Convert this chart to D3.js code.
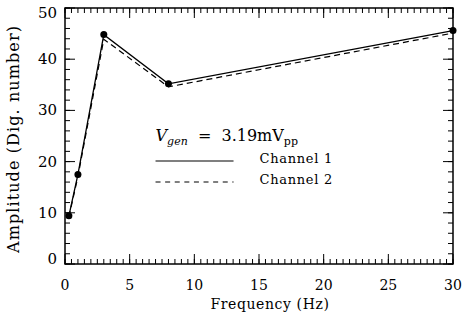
<!DOCTYPE html>
<html>
<head>
<meta charset="utf-8">
<script src="https://cdn.jsdelivr.net/npm/d3@7"></script>
<style>
  body { margin: 0; background: #fff; }
  text { font-family: "DejaVu Serif", serif; fill: #000; }
</style>
</head>
<body>
<div id="chart"></div>
<script>
const freq = [0.3, 1, 3, 8, 30];
const channel1 = [9.4, 17.5, 44.8, 35.2, 45.6];
const channel2 = [9.2, 17.1, 43.9, 34.6, 45.1];
const xTicks = [0, 5, 10, 15, 20, 25, 30];
const yTicks = [0, 10, 20, 30, 40, 50];

const margin = { top: 8, right: 15, bottom: 56, left: 65 };
const width = 468 - margin.left - margin.right;
const height = 320 - margin.top - margin.bottom;

const svg = d3.select("#chart")
  .append("svg")
  .attr("width", 468)
  .attr("height", 320)
  .append("g")
  .attr("transform", `translate(${margin.left}, ${margin.top})`);

const xScale = d3.scaleLinear().domain([0, 30]).range([0, width]);
const yScale = d3.scaleLinear().domain([0, 50]).range([height, 0]);

// minor + major ticks on all four sides, pointing inward
const xMinor = d3.range(0, 30.01, 0.5);
const yMinor = d3.range(0, 50.01, 2);

function ticks(g, scale, vals, len, side) {
  vals.forEach(v => {
    const p = scale(v);
    if (side === "bottom") g.append("line").attr("x1", p).attr("x2", p).attr("y1", height).attr("y2", height - len);
    if (side === "top") g.append("line").attr("x1", p).attr("x2", p).attr("y1", 0).attr("y2", len);
    if (side === "left") g.append("line").attr("y1", p).attr("y2", p).attr("x1", 0).attr("x2", len);
    if (side === "right") g.append("line").attr("y1", p).attr("y2", p).attr("x1", width).attr("x2", width - len);
  });
}

const tg = svg.append("g").attr("stroke", "#000").attr("stroke-width", 1);
["bottom", "top"].forEach(s => { ticks(tg, xScale, xMinor, 5, s); ticks(tg, xScale, xTicks, 10, s); });
["left", "right"].forEach(s => { ticks(tg, yScale, yMinor, 5, s); ticks(tg, yScale, yTicks, 10, s); });

svg.append("rect")
  .attr("width", width).attr("height", height)
  .attr("fill", "none").attr("stroke", "#000").attr("stroke-width", 1.5);

svg.selectAll(".xl").data(xTicks).enter().append("text")
  .attr("x", d => xScale(d)).attr("y", height + 26)
  .attr("text-anchor", "middle").style("font-size", "14px")
  .text(d => d);

// end labels nudged inside like the original
svg.selectAll(".yl").data(yTicks).enter().append("text")
  .attr("x", -8).attr("y", d => Math.max(5, Math.min(height - 5, yScale(d))) + 5)
  .attr("text-anchor", "end").style("font-size", "15px")
  .text(d => d);

svg.append("text")
  .attr("x", width / 2 + 11).attr("y", height + 45)
  .attr("text-anchor", "middle").style("font-size", "14px")
  .style("letter-spacing", "0.6px")
  .text("Frequency (Hz)");

svg.append("text")
  .attr("transform", `translate(${-46}, ${height / 2 + 3}) rotate(-90)`)
  .attr("text-anchor", "middle").style("font-size", "16px")
  .style("letter-spacing", "1.1px")
  .text("Amplitude (Dig. number)");

const line = d3.line().x((d, i) => xScale(freq[i])).y(d => yScale(d));

svg.append("path").datum(channel2)
  .attr("d", line).attr("fill", "none")
  .attr("stroke", "#000").attr("stroke-width", 1.2).attr("stroke-dasharray", "6,4");

svg.append("path").datum(channel1)
  .attr("d", line).attr("fill", "none")
  .attr("stroke", "#000").attr("stroke-width", 1.3);

svg.selectAll(".dot").data(channel1).enter().append("circle")
  .attr("cx", (d, i) => xScale(freq[i])).attr("cy", d => yScale(d))
  .attr("r", 3.5).attr("fill", "#000");

// legend
const lg = svg.append("g").attr("transform", `translate(${xScale(7)}, 0)`);
const vt = lg.append("text").attr("x", 0).attr("y", 133).style("font-size", "16px");
vt.append("tspan").style("font-style", "italic").text("V");
vt.append("tspan").attr("dy", 4).style("font-size", "11px").style("font-style", "italic").text("gen");
vt.append("tspan").attr("dy", -4).attr("xml:space", "preserve").text("\u00a0 = \u00a03.19mV");
vt.append("tspan").attr("dy", 4).style("font-size", "11px").text("pp");

lg.append("line").attr("x1", 0).attr("x2", 78).attr("y1", 153).attr("y2", 153)
  .attr("stroke", "#000").attr("stroke-width", 1.2);
lg.append("line").attr("x1", 0).attr("x2", 78).attr("y1", 174).attr("y2", 174)
  .attr("stroke", "#000").attr("stroke-width", 1.2).attr("stroke-dasharray", "5,4.6");
lg.append("text").attr("x", 104).attr("y", 155).style("font-size", "13px").style("letter-spacing", "0.7px").text("Channel 1");
lg.append("text").attr("x", 104).attr("y", 176).style("font-size", "13px").style("letter-spacing", "0.7px").text("Channel 2");
</script>
</body>
</html>
